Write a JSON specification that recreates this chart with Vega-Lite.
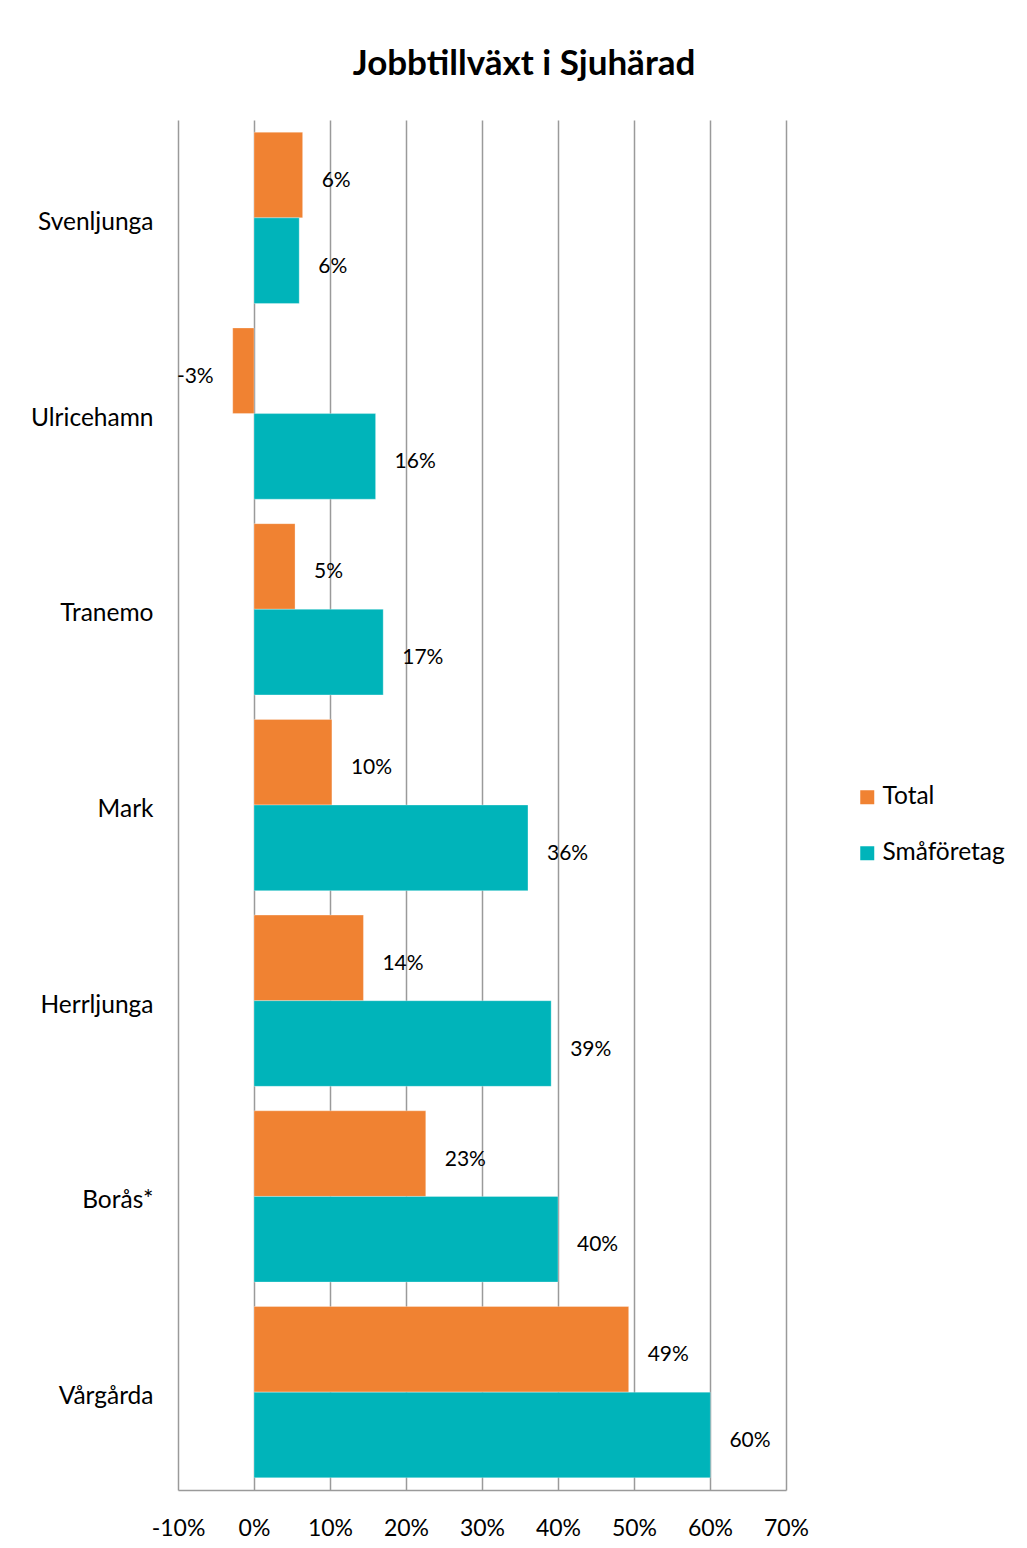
{
  "$schema": "https://vega.github.io/schema/vega-lite/v6.json",
  "autosize": {"type": "none"},
  "padding": {"left": 178, "top": 120, "right": 241, "bottom": 58},
  "width": 608,
  "height": 1370,
  "background": "white",
  "title": {
    "text": "Jobbtillväxt i Sjuhärad",
    "font": "Lato",
    "fontSize": 35,
    "fontWeight": "bold",
    "color": "#000000",
    "anchor": "middle",
    "frame": "group",
    "dx": 42,
    "baseline": "alphabetic",
    "offset": 10
  },
  "config": {
    "font": "Lato",
    "view": {"stroke": null},
    "axis": {"labelFont": "Lato", "labelColor": "#000000"}
  },
  "datasets": {
    "growth": [
      {"kommun": "Svenljunga", "serie": "Total", "value": 6.4, "label": "6%"},
      {"kommun": "Svenljunga", "serie": "Småföretag", "value": 5.95, "label": "6%"},
      {"kommun": "Ulricehamn", "serie": "Total", "value": -2.8, "label": "-3%"},
      {"kommun": "Ulricehamn", "serie": "Småföretag", "value": 16.0, "label": "16%"},
      {"kommun": "Tranemo", "serie": "Total", "value": 5.4, "label": "5%"},
      {"kommun": "Tranemo", "serie": "Småföretag", "value": 17.0, "label": "17%"},
      {"kommun": "Mark", "serie": "Total", "value": 10.25, "label": "10%"},
      {"kommun": "Mark", "serie": "Småföretag", "value": 36.05, "label": "36%"},
      {"kommun": "Herrljunga", "serie": "Total", "value": 14.4, "label": "14%"},
      {"kommun": "Herrljunga", "serie": "Småföretag", "value": 39.1, "label": "39%"},
      {"kommun": "Borås*", "serie": "Total", "value": 22.6, "label": "23%"},
      {"kommun": "Borås*", "serie": "Småföretag", "value": 40.0, "label": "40%"},
      {"kommun": "Vårgårda", "serie": "Total", "value": 49.3, "label": "49%"},
      {"kommun": "Vårgårda", "serie": "Småföretag", "value": 60.05, "label": "60%"}
    ]
  },
  "data": {"name": "growth"},
  "encoding": {
    "y": {
      "field": "kommun",
      "type": "nominal",
      "sort": ["Svenljunga", "Ulricehamn", "Tranemo", "Mark", "Herrljunga", "Borås*", "Vårgårda"],
      "scale": {"paddingInner": 0.125, "paddingOuter": 0.0625},
      "axis": {
        "title": null,
        "ticks": false,
        "domain": false,
        "labelFontSize": 24.5,
        "labelPadding": 25,
        "labelOffset": 5,
        "labelColor": "#000000"
      }
    },
    "yOffset": {
      "field": "serie",
      "type": "nominal",
      "sort": ["Total", "Småföretag"],
      "scale": {"paddingInner": 0, "paddingOuter": 0}
    },
    "x": {
      "field": "value",
      "type": "quantitative",
      "scale": {"domain": [-10, 70], "nice": false, "zero": false},
      "axis": {
        "title": null,
        "values": [-10, 0, 10, 20, 30, 40, 50, 60, 70],
        "labelExpr": "datum.value + '%'",
        "labelFlush": false,
        "labelOverlap": false,
        "grid": true,
        "gridColor": "#9a9a9a",
        "gridWidth": 1.5,
        "domain": true,
        "domainColor": "#9a9a9a",
        "domainWidth": 1.5,
        "ticks": false,
        "labelFontSize": 23,
        "labelPadding": 27,
        "labelColor": "#000000"
      }
    }
  },
  "layer": [
    {
      "mark": {"type": "bar", "stroke": "#ffffff", "strokeWidth": 0.6, "strokeOpacity": 0.5},
      "encoding": {
        "color": {
          "field": "serie",
          "type": "nominal",
          "sort": ["Total", "Småföretag"],
          "scale": {"domain": ["Total", "Småföretag"], "range": ["#F08232", "#00B4BA"]},
          "legend": {
            "title": null,
            "orient": "none",
            "legendX": 677,
            "legendY": 665,
            "symbolType": "square",
            "symbolSize": 196,
            "symbolStrokeWidth": 0,
            "labelFont": "Lato",
            "labelFontSize": 24.5,
            "labelColor": "#000000",
            "labelOffset": 3,
            "rowPadding": 31
          }
        }
      }
    },
    {
      "transform": [{"filter": "datum.value >= 0"}],
      "mark": {"type": "text", "align": "left", "baseline": "middle", "dx": 19, "dy": 6, "font": "Lato", "fontSize": 21, "color": "#000000"},
      "encoding": {"text": {"field": "label", "type": "nominal"}}
    },
    {
      "transform": [{"filter": "datum.value < 0"}],
      "mark": {"type": "text", "align": "right", "baseline": "middle", "dx": -19, "dy": 6, "font": "Lato", "fontSize": 21, "color": "#000000"},
      "encoding": {"text": {"field": "label", "type": "nominal"}}
    }
  ]
}
